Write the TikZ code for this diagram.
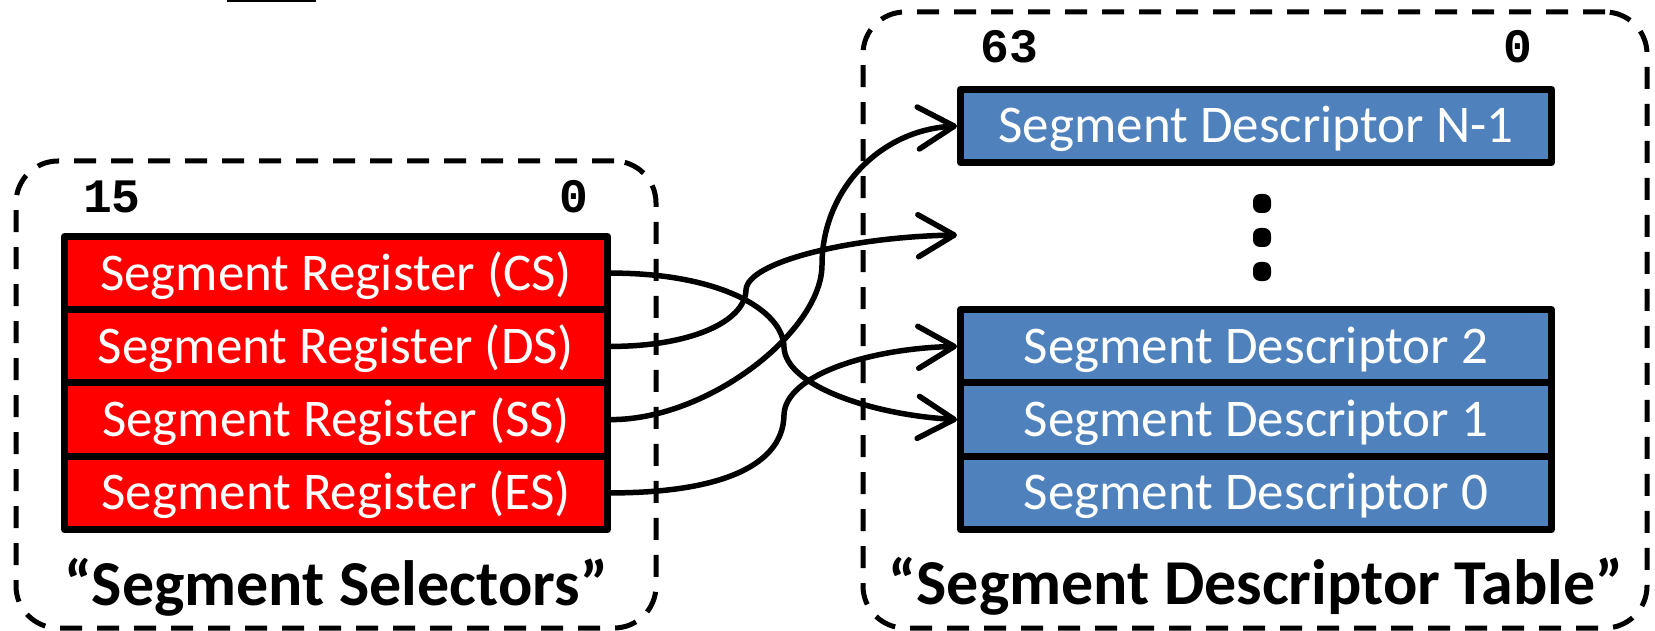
\documentclass[tikz,border=0pt]{standalone}
\usepackage{fontspec}
\setmainfont{Carlito}
\newfontfamily\bitfont{Liberation Mono}
\usetikzlibrary{arrows.meta}
\definecolor{regred}{RGB}{255,0,0}
\definecolor{descblue}{RGB}{79,129,189}
\begin{document}
\begin{tikzpicture}[x=1pt,y=-1pt,
  cell/.style={draw=black, line width=7pt, line join=round, minimum height=73.25pt,
    inner sep=0pt, text=white, font=\fontsize{53}{60}\selectfont, text height=34pt, text depth=0pt},
  regcell/.style={cell, fill=regred, minimum width=543pt},
  desccell/.style={cell, fill=descblue, minimum width=591pt},
  groupbox/.style={draw=black, line width=5pt, dash pattern=on 22pt off 15pt,
    rounded corners=42pt, inner sep=0pt},
  bitlabel/.style={font=\bitfont\bfseries\fontsize{48}{50}\selectfont, anchor=base, inner sep=0pt},
  titlelabel/.style={font=\bfseries\fontsize{64}{70}\selectfont, anchor=base, inner sep=0pt},
  link/.style={line width=5.5pt, line cap=round,
    -{Straight Barb[length=36pt,width=42pt,round]}},
  dotmark/.style={fill=black, rounded corners=7pt}
]
\useasboundingbox (0,0) rectangle (1655,631);

% top stray bar
\coordinate (barl) at (227,1.25);
\coordinate (barr) at (316,1.25);
\draw[line width=2.5pt] (barl) -- (barr);

% group boxes
\node[groupbox, minimum width=640pt, minimum height=467pt] (selbox) at (336,394.5) {};
\node[groupbox, minimum width=784pt, minimum height=616pt] (tablebox) at (1255,320) {};

% segment registers
\node[regcell] (cs) at (336,273.1) {Segment Register (CS)};
\node[regcell] (ds) at (336,346.4) {Segment Register (DS)};
\node[regcell] (ss) at (336,419.6) {Segment Register (SS)};
\node[regcell] (es) at (336,492.9) {Segment Register (ES)};

% descriptors
\node[desccell, minimum height=73pt] (nm1) at (1256,126) {Segment Descriptor N-1};
\node[desccell] (d2) at (1256,346.4) {Segment Descriptor 2};
\node[desccell] (d1) at (1256,419.6) {Segment Descriptor 1};
\node[desccell] (d0) at (1256,492.9) {Segment Descriptor 0};

% bit labels
\node[bitlabel] (b15) at (112,213) {15};
\node[bitlabel] (b0l) at (574,213) {0};
\node[bitlabel] (b63) at (1009,63) {63};
\node[bitlabel] (b0r) at (1518,63) {0};

% titles
\node[titlelabel] (seltitle) at (336,605) {“Segment Selectors”};
\node[titlelabel] (tabtitle) at (1256,604) {“Segment Descriptor Table”};

% vertical dots
\fill[dotmark] (1253,194) rectangle (1271,213);
\fill[dotmark] (1253,228) rectangle (1271,247);
\fill[dotmark] (1253,262) rectangle (1271,281);

% connector targets / bends
\coordinate (gap) at (957,235);
\coordinate (k1) at (784,347);
\coordinate (k2) at (746,290);
\coordinate (k3) at (822,265);
\coordinate (k4) at (784,415);

\draw[link] (cs.east) .. controls +(109,0) and +(-1,-37) .. (k1)
  .. controls +(1,38) and +(-87,-5) .. (d1.west);
\draw[link] (ds.east) .. controls +(79,0) and +(-1,32) .. (k2)
  .. controls +(1,-28) and +(-107,2) .. (gap);
\draw[link] (ss.east) .. controls +(99,0) and +(0,65) .. (k3)
  .. controls +(0,-75) and +(-77,4) .. (nm1.west);
\draw[link] (es.east) .. controls +(99,0) and +(-1,55) .. (k4)
  .. controls +(1,-40) and +(-87,2) .. (d2.west);
\end{tikzpicture}
\end{document}
